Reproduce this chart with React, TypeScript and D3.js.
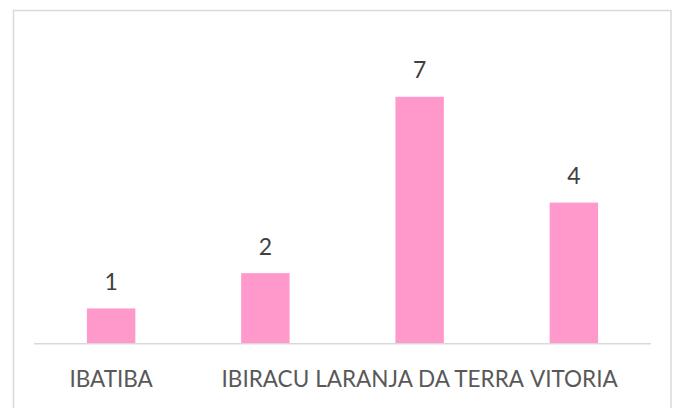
import React, { useEffect, useRef } from 'react';
import * as d3 from 'd3';

const categories = ['IBATIBA', 'IBIRACU', 'LARANJA DA TERRA', 'VITORIA'];
const values = [1, 2, 7, 4];
const yMax = 8;

const App = () => {
  const svgRef = useRef<SVGSVGElement>(null);

  useEffect(() => {
    const svg = d3.select(svgRef.current);
    svg.selectAll('*').remove();

    const width = 679;
    const height = 408;
    const margin = { top: 61.5, right: 28, bottom: 64.3, left: 34 };
    const font = 'Lato, "Open Sans", sans-serif';

    // chart frame
    svg.append('rect')
      .attr('x', 13.5)
      .attr('y', 10.5)
      .attr('width', 671 - 13.5)
      .attr('height', 410)
      .attr('fill', 'white')
      .attr('stroke', '#d9d9d9')
      .attr('stroke-width', 1.5);

    const x = d3.scaleBand()
      .domain(categories)
      .range([margin.left, width - margin.right])
      .paddingInner(0.686)
      .paddingOuter(0.343);

    const y = d3.scaleLinear()
      .domain([0, yMax])
      .range([height - margin.bottom, margin.top]);

    // bars
    svg.selectAll('.bar')
      .data(values)
      .enter()
      .append('rect')
      .attr('class', 'bar')
      .attr('x', (d, i) => x(categories[i]))
      .attr('y', d => y(d))
      .attr('width', x.bandwidth())
      .attr('height', d => y(0) - y(d))
      .attr('fill', '#ff99cc');

    // axis line
    svg.append('line')
      .attr('x1', margin.left)
      .attr('x2', width - margin.right)
      .attr('y1', y(0))
      .attr('y2', y(0))
      .attr('stroke', '#d9d9d9')
      .attr('stroke-width', 1.5);

    // value labels
    svg.selectAll('.val')
      .data(values)
      .enter()
      .append('text')
      .attr('x', (d, i) => x(categories[i]) + x.bandwidth() / 2)
      .attr('y', d => y(d) - 18.5)
      .attr('text-anchor', 'middle')
      .attr('font-family', font)
      .attr('font-size', 23)
      .attr('fill', '#404040')
      .text(d => d);

    // category labels
    svg.selectAll('.cat')
      .data(categories)
      .enter()
      .append('text')
      .attr('x', d => x(d) + x.bandwidth() / 2)
      .attr('y', 386.5)
      .attr('text-anchor', 'middle')
      .attr('font-family', font)
      .attr('font-size', 22.5)
      .attr('fill', '#595959')
      .text(d => d);
  }, []);

  return (
    <svg
      ref={svgRef}
      width={679}
      height={408}
      style={{ position: 'absolute', left: 0, top: 0 }}
    />
  );
};

export default App;
